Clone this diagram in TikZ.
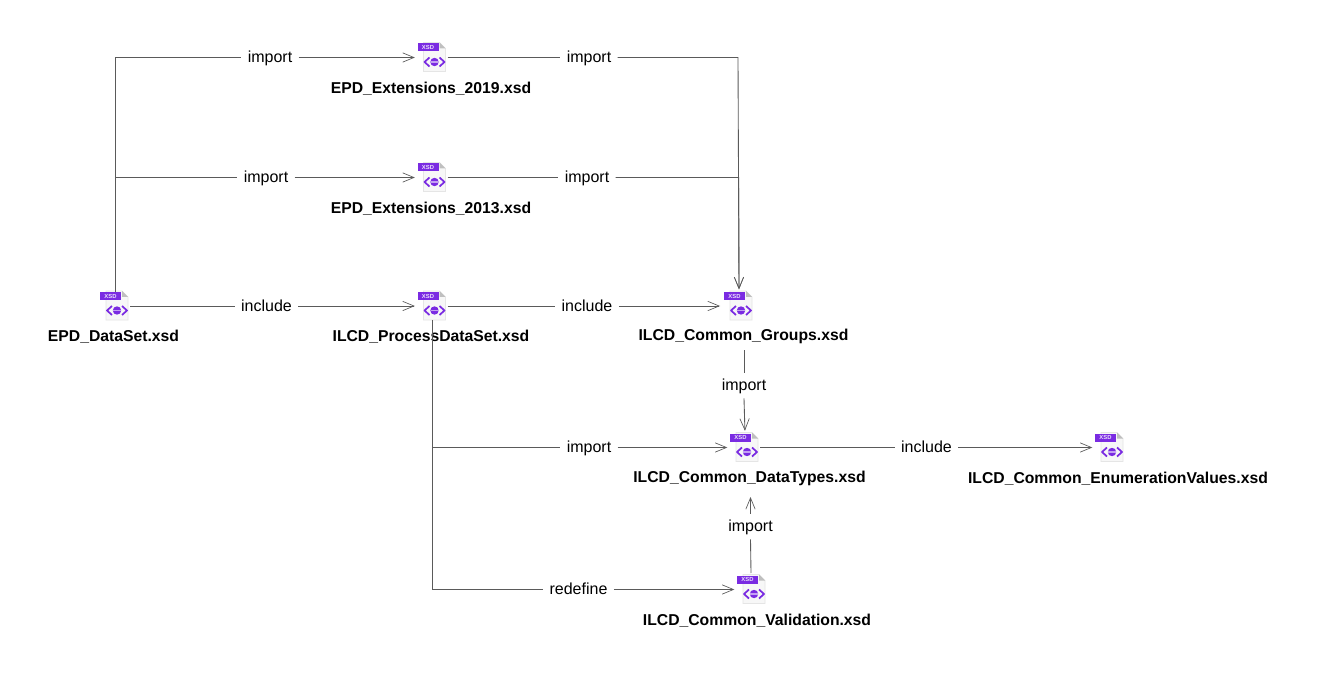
\documentclass[tikz,border=0pt]{standalone}
\usepackage{fontspec}
\setmainfont{Liberation Sans}
\usetikzlibrary{arrows.meta,calc}
\definecolor{xsdpurple}{HTML}{7A2BE2}
\definecolor{linkgray}{HTML}{5A5A5A}
\tikzset{
  x=0.75pt,y=-0.75pt,
  iconbox/.style={minimum width=22.5pt,minimum height=21pt,inner sep=0pt,outer sep=0pt},
  filename/.style={font=\bfseries\fontsize{11.8pt}{14pt}\selectfont,inner sep=0pt,text=black},
  lbl/.style={font=\fontsize{12pt}{14pt}\selectfont,inner xsep=4.6pt,inner ysep=1pt,text height=9.5pt,text depth=1.5pt,text=black},
  vlbl/.style={lbl,inner ysep=4pt},
  link/.style={draw=linkgray,line width=0.65pt},
  arr/.style={link,-{Straight Barb[length=8.5pt,width=7pt,line width=0.5pt]},shorten >=2pt},
}
\newcommand{\xsdicon}[2]{%
  \node[iconbox] (#1) at (#2) {};
  \begin{scope}[shift={(#2)}]
    \filldraw[fill=black!3,draw=black!10,line width=0.4pt] (-9,-15) -- (7,-15) -- (13,-9) -- (13,14) -- (-9,14) -- cycle;
    \fill[black!25] (7,-15) -- (13,-9) -- (7,-9) -- cycle;
    \fill[xsdpurple] (-15,-14) rectangle (6,-6);
    \node[text=white!85!xsdpurple,font=\bfseries\fontsize{4.4pt}{4.4pt}\selectfont,inner sep=0pt] at (-4.5,-10) {XSD};
    \draw[xsdpurple,line width=1.3pt,line join=round] (-3,0) -- (-8,4.5) -- (-3,9);
    \draw[xsdpurple,line width=1.3pt,line join=round] (7,0) -- (12,4.5) -- (7,9);
    \fill[xsdpurple] (2,4.5) circle[radius=4.2];
    \fill[xsdpurple!45] (-2,3.8) rectangle (6,5.2);
  \end{scope}}
\begin{document}
\begin{tikzpicture}
\useasboundingbox[fill=white] (0,0) rectangle (1317,677);
% icons
\xsdicon{epd}{115,306}
\xsdicon{ext19}{432.5,57.5}
\xsdicon{ext13}{432.5,177.5}
\xsdicon{proc}{432.5,306}
\xsdicon{groups}{739,306}
\xsdicon{types}{745,447.5}
\xsdicon{enum}{1110,447.5}
\xsdicon{valid}{752,589.5}
% file names
\node[filename] (nepd) at (113.5,337) {EPD\_DataSet.xsd};
\node[filename] (next19) at (431,89) {EPD\_Extensions\_2019.xsd};
\node[filename] (next13) at (431,209) {EPD\_Extensions\_2013.xsd};
\node[filename] (nproc) at (431,337) {ILCD\_ProcessDataSet.xsd};
\node[filename] (ngroups) at (743.5,336.5) {ILCD\_Common\_Groups.xsd};
\node[filename] (ntypes) at (749.5,478.5) {ILCD\_Common\_DataTypes.xsd};
\node[filename] (nenum) at (1118,478.5) {ILCD\_Common\_EnumerationValues.xsd};
\node[filename] (nvalid) at (757,620.5) {ILCD\_Common\_Validation.xsd};
% connector labels
\node[lbl] (a) at (270,57.5) {import};
\node[lbl] (b) at (266,177.5) {import};
\node[lbl] (c) at (266.5,306) {include};
\node[lbl] (d) at (589,57.5) {import};
\node[lbl] (e) at (587,177.5) {import};
\node[lbl] (f) at (587,306) {include};
\node[lbl] (g) at (589,447.5) {import};
\node[lbl] (h) at (578.5,589.5) {redefine};
\node[lbl] (i) at (926.5,447.5) {include};
\node[vlbl] (j) at (744,385.5) {import};
\node[vlbl] (k) at (750.5,526.5) {import};
% free ends and bends
\coordinate (jb) at (epd.north |- b.west);
\coordinate (jg) at (proc.south |- g.west);
\coordinate (bd) at (738,57.5);
\coordinate (be) at (738.7,177.5);
\coordinate (gs) at (744,350);
\coordinate (ks) at (751,573);
\coordinate (kt) at (750.5,497);
% connectors
\draw[link] (epd.north) |- (a.west);
\draw[arr] (a.east) -- (ext19.west);
\draw[link] (jb) -- (b.west);
\draw[arr] (b.east) -- (ext13.west);
\draw[link] (epd.east) -- (c.west);
\draw[arr] (c.east) -- (proc.west);
\draw[link] (ext19.east) -- (d.west);
\draw[arr] (d.east) -- (bd) -- (groups.north);
\draw[link] (ext13.east) -- (e.west);
\draw[arr] (e.east) -- (be) -- (groups.north);
\draw[link] (proc.east) -- (f.west);
\draw[arr,shorten >=3pt] (f.east) -- (groups.west);
\draw[link] (proc.south) |- (h.west);
\draw[link] (jg) -- (g.west);
\draw[arr] (g.east) -- (types.west);
\draw[arr] (h.east) -- (valid.west);
\draw[link] (types.east) -- (i.west);
\draw[arr] (i.east) -- (enum.west);
\draw[link] (gs) -- (j.north);
\draw[arr] (j.south) -- (types.north);
\draw[link] (ks) -- (k.south);
\draw[arr,shorten >=0pt] (k.north) -- (kt);
\end{tikzpicture}
\end{document}
